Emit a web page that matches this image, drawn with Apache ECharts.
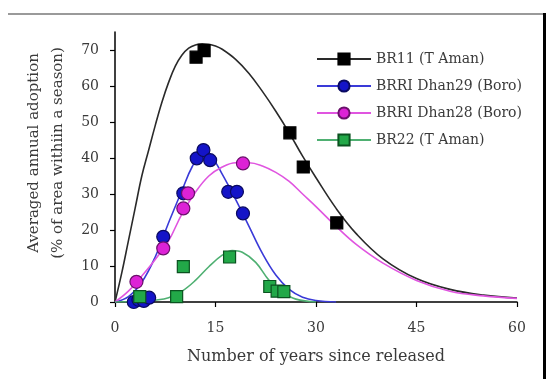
<!DOCTYPE html>
<html>
<head>
<meta charset="utf-8">
<script src="https://cdn.jsdelivr.net/npm/echarts@6/dist/echarts.min.js"></script>
<style>
  html, body { margin: 0; padding: 0; background: #fff; }
  #chart { width: 546px; height: 379px; }
</style>
</head>
<body>
<div id="chart"></div>
<script>
// Series names
const names = ['BR11 (T Aman)', 'BRRI Dhan29 (Boro)', 'BRRI Dhan28 (Boro)', 'BR22 (T Aman)'];

// Observed adoption points: [years since release, % of area]
const br11Obs = [[12.1, 68], [13.3, 69.8], [26.1, 47], [28.1, 37.5], [33.1, 22]];
const dhan29Obs = [[2.8, 0], [3.5, 0.6], [4.3, 0.3], [5.1, 1.2], [7.2, 18.1], [10.2, 30.2],
  [12.2, 39.9], [13.2, 42.2], [14.2, 39.4], [16.9, 30.6], [18.2, 30.6], [19.1, 24.6]];
const dhan28Obs = [[3.2, 5.6], [7.2, 14.9], [10.2, 26], [10.9, 30.2], [19.1, 38.5]];
const br22Obs = [[3.7, 1.5], [9.2, 1.5], [10.2, 9.8], [17.1, 12.5], [23.1, 4.3], [24.2, 3], [25.2, 2.9]];

// Fitted adoption curves
const br11Fit = [[0, 0], [1, 8], [2, 17], [3, 26], [4, 35], [5, 42], [6, 49], [7, 55.5], [8, 61],
  [9, 65.5], [10, 68.6], [11, 70.5], [12, 71.4], [13, 71.7], [14, 71.6], [15, 71.1], [16, 70.2],
  [18, 67.4], [20, 63.5], [22, 58.5], [24, 53], [26, 47], [28, 40.5], [30, 34.5], [33, 26],
  [36, 19], [40, 12], [45, 6.5], [50, 3.5], [55, 1.9], [60, 1.1]];
const dhan29Fit = [[0, 0], [2, 1.5], [4, 5.5], [6, 12.5], [8, 22], [10, 31], [11.5, 37.5],
  [13, 41.2], [14.5, 40], [16, 35.5], [18, 28.5], [20, 21], [22, 13.5], [24, 7.5], [26, 3.5],
  [28, 1.3], [30, 0.4], [33, 0]];
const dhan28Fit = [[0, 0], [2, 3], [4, 7.2], [6, 11.8], [8, 17], [10, 24.5], [12, 30.5],
  [14, 35], [16, 37.5], [18, 38.7], [20, 38.7], [22, 37.8], [24, 36], [26, 33.5], [28, 30],
  [30, 26.5], [33, 21], [36, 16], [40, 10.8], [45, 6], [50, 3], [55, 1.7], [60, 1]];
const br22Fit = [[0, 0], [4, 0.2], [6, 0.5], [8, 1.2], [10, 3], [12, 6], [14, 9.8], [16, 13],
  [17.5, 14.3], [19, 13.8], [21, 11], [23, 6], [25, 2.7], [27, 0.8], [30, 0]];

// Tick values
const xTicks = [0, 15, 30, 45, 60];
const yTicks = [0, 10, 20, 30, 40, 50, 60, 70];

const serif = 'DejaVu Serif';
const textColor = '#3a3a3a';

const styles = [
  { line: '#2a2a2a', fill: '#000000', border: '#000000', symbol: 'rect', size: 12 },
  { line: '#3a3ad8', fill: '#1414c8', border: '#0a0a60', symbol: 'circle', size: 13 },
  { line: '#e055e0', fill: '#dd22d6', border: '#6a106a', symbol: 'circle', size: 13 },
  { line: '#4fb072', fill: '#22a848', border: '#0b5220', symbol: 'rect', size: 12 }
];
const fits = [br11Fit, dhan29Fit, dhan28Fit, br22Fit];
const obs = [br11Obs, dhan29Obs, dhan28Obs, br22Obs];

const series = [];
names.forEach((name, i) => {
  const s = styles[i];
  series.push({
    name: name,
    type: 'line',
    data: fits[i],
    smooth: 0.4,
    showSymbol: false,
    symbol: s.symbol,
    symbolSize: s.size,
    silent: true,
    z: 2,
    lineStyle: { color: s.line, width: 1.6 },
    itemStyle: { color: s.fill, borderColor: s.border, borderWidth: 1.2 }
  });
});
names.forEach((name, i) => {
  const s = styles[i];
  series.push({
    name: name,
    type: 'scatter',
    data: obs[i],
    symbol: s.symbol,
    symbolSize: s.size,
    z: 3,
    itemStyle: { color: s.fill, borderColor: s.border, borderWidth: 1.2, opacity: 1 }
  });
});

const chart = echarts.init(document.getElementById('chart'), null, { renderer: 'canvas' });
chart.setOption({
  animation: false,
  backgroundColor: '#ffffff',
  grid: { left: 115, right: 29, top: 32, bottom: 77, containLabel: false },
  legend: {
    data: names,
    orient: 'vertical',
    left: 311,
    top: 47,
    itemWidth: 54,
    itemHeight: 14,
    itemGap: 13,
    textStyle: { fontFamily: serif, fontSize: 14, color: textColor }
  },
  xAxis: {
    type: 'value',
    min: 0,
    max: 60,
    interval: 15,
    name: 'Number of years since released',
    nameLocation: 'middle',
    nameGap: 47,
    nameTextStyle: { fontFamily: serif, fontSize: 16, color: textColor },
    splitLine: { show: false },
    axisLine: { lineStyle: { color: '#000', width: 1.5 } },
    axisTick: { length: 5, lineStyle: { color: '#000', width: 1.2 } },
    axisLabel: { fontFamily: serif, fontSize: 14, color: textColor, margin: 19,
      customValues: xTicks }
  },
  yAxis: {
    type: 'value',
    min: 0,
    max: 75,
    interval: 10,
    name: 'Averaged annual adoption\n(% of area withiin a season)',
    nameLocation: 'middle',
    nameRotate: 90,
    nameGap: 41,
    nameTextStyle: { fontFamily: serif, fontSize: 15, color: textColor, lineHeight: 24,
      padding: [0, 0, 0, 28] },
    splitLine: { show: false },
    axisLine: { show: true, lineStyle: { color: '#000', width: 1.5 } },
    axisTick: { show: true, length: 5, lineStyle: { color: '#000', width: 1.2 },
      customValues: yTicks },
    axisLabel: { fontFamily: serif, fontSize: 14, color: textColor, margin: 16,
      customValues: yTicks }
  },
  graphic: [
    { type: 'line', silent: true, shape: { x1: 8, y1: 14, x2: 546, y2: 14 },
      style: { stroke: '#9a9a9a', lineWidth: 2 } },
    { type: 'line', silent: true, shape: { x1: 544.5, y1: 13, x2: 544.5, y2: 379 },
      style: { stroke: '#000000', lineWidth: 3 } }
  ],
  series: series
});
</script>
</body>
</html>
